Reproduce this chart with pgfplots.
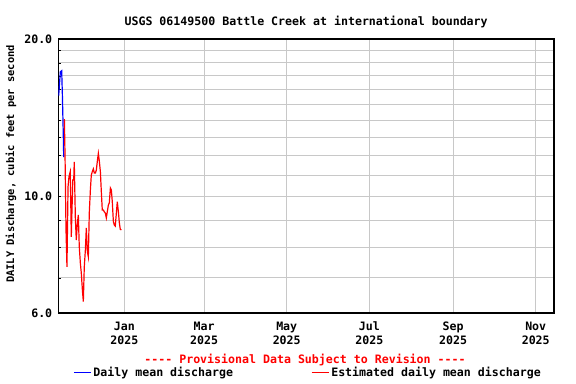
\documentclass[border=0pt]{standalone}
\usepackage{fontspec}
\setmonofont{DejaVu Sans Mono}
\renewcommand\familydefault{\ttdefault}
\usepackage{pgfplots}
\pgfplotsset{compat=1.18}
\definecolor{gridgray}{RGB}{200,200,200}
\begin{document}
\fontsize{11.6bp}{14bp}\selectfont\bfseries
\begin{tikzpicture}
\path[use as bounding box] (0,0) rectangle (576bp,384bp);
\begin{axis}[
  at={(58.3bp,71bp)}, anchor=south west,
  width=495.7bp, height=274bp, scale only axis,
  xmin=-48.8, xmax=317.5,
  ymode=log, ymin=6, ymax=20,
  log basis y=10,
  xtick={0,59,120,181,243,304},
  xticklabels={Jan\\2025,Mar\\2025,May\\2025,Jul\\2025,Sep\\2025,Nov\\2025},
  xticklabel style={align=center, font=\ttfamily\fontsize{11.6bp}{14bp}\selectfont\bfseries, yshift=-5bp},
  ytick={6,10,20},
  yticklabels={6.0,10.0,20.0},
  yticklabel style={font=\ttfamily\fontsize{11.6bp}{14bp}\selectfont\bfseries, xshift=-2bp},
  minor ytick={7,8,9,11,12,13,14,15,16,17,18,19},
  ytick pos=left,
  xmajorgrids, ymajorgrids, yminorgrids,
  major grid style={gridgray, line width=1bp},
  minor grid style={gridgray, line width=1bp},
  tick align=inside,
  major tick length=3bp, minor tick length=3bp,
  xtick style={draw=none},
  ytick style={black, line width=0.8bp},
  axis line style={black, line width=1.5bp},
  /pgf/number format/assume math mode=true,
  title={USGS 06149500 Battle Creek at international boundary},
  title style={font=\ttfamily\fontsize{11.6bp}{14bp}\selectfont\bfseries, at={(axis description cs:0.5,1)}, anchor=base, yshift=8bp},
  ylabel={DAILY Discharge, cubic feet per second},
  ylabel style={font=\ttfamily\fontsize{10.4bp}{12bp}\selectfont\bfseries, at={(axis description cs:-0.0954,0.544)}, anchor=center, rotate=0},
  legend columns=2,
  legend style={draw=none, fill=none, inner sep=0pt, at={(axis description cs:0.0297,-0.218)}, anchor=west,
    font=\ttfamily\fontsize{11.6bp}{14bp}\selectfont\bfseries,
    /tikz/every even column/.append style={column sep=76bp}},
  legend image code/.code={\draw[#1] (0bp,0bp) -- (17bp,0bp);},
]
\addplot[blue, line width=1.2bp] coordinates {
(-48.5,15.6) (-47.3,17.3) (-46.3,17.4) (-45.8,15.7) (-45.1,13.1) (-44.8,11.9)
};
\addlegendentry{Daily mean discharge}
\addplot[red, line width=1.2bp] coordinates {
(-44.3,14.07) (-43.8,11.85) (-43.1,8.64) (-42.4,7.35) (-41.6,10.45) (-40.9,10.92)
(-40.0,11.16) (-39.7,10.17) (-39.2,8.38) (-38.1,10.76) (-37.4,10.76) (-37.0,11.66)
(-36.2,9.11) (-35.5,8.27) (-34.7,8.9) (-34.0,9.23) (-33.3,8.03) (-32.5,7.47)
(-31.8,7.15) (-31.0,6.64) (-30.3,6.31) (-29.6,7.35) (-28.8,7.91) (-28.1,8.72)
(-27.3,7.85) (-26.6,7.68) (-25.9,9.31) (-25.1,10.30) (-24.4,11.0) (-23.7,11.16)
(-22.9,11.3) (-22.2,11.1) (-21.4,11.1) (-20.7,11.24) (-20.0,11.66) (-19.2,12.1)
(-18.5,11.7) (-17.7,11.16) (-17.0,10.22) (-16.3,9.43) (-15.5,9.43) (-14.8,9.36)
(-14.0,9.30) (-13.3,9.11) (-12.6,9.36) (-11.8,9.64) (-11.1,9.74) (-10.3,10.39)
(-9.6,10.30) (-8.9,9.78) (-8.1,8.96) (-7.4,8.83) (-6.7,8.79) (-5.9,9.31)
(-5.2,9.78) (-4.4,9.36) (-3.7,8.92) (-3.0,8.67) (-2.2,8.64)
};
\addlegendentry{Estimated daily mean discharge}
\end{axis}
\node[red, font=\ttfamily\fontsize{11.6bp}{14bp}\selectfont\bfseries, anchor=center] at (305bp,24bp) {---- Provisional Data Subject to Revision ----};
\end{tikzpicture}
\end{document}
